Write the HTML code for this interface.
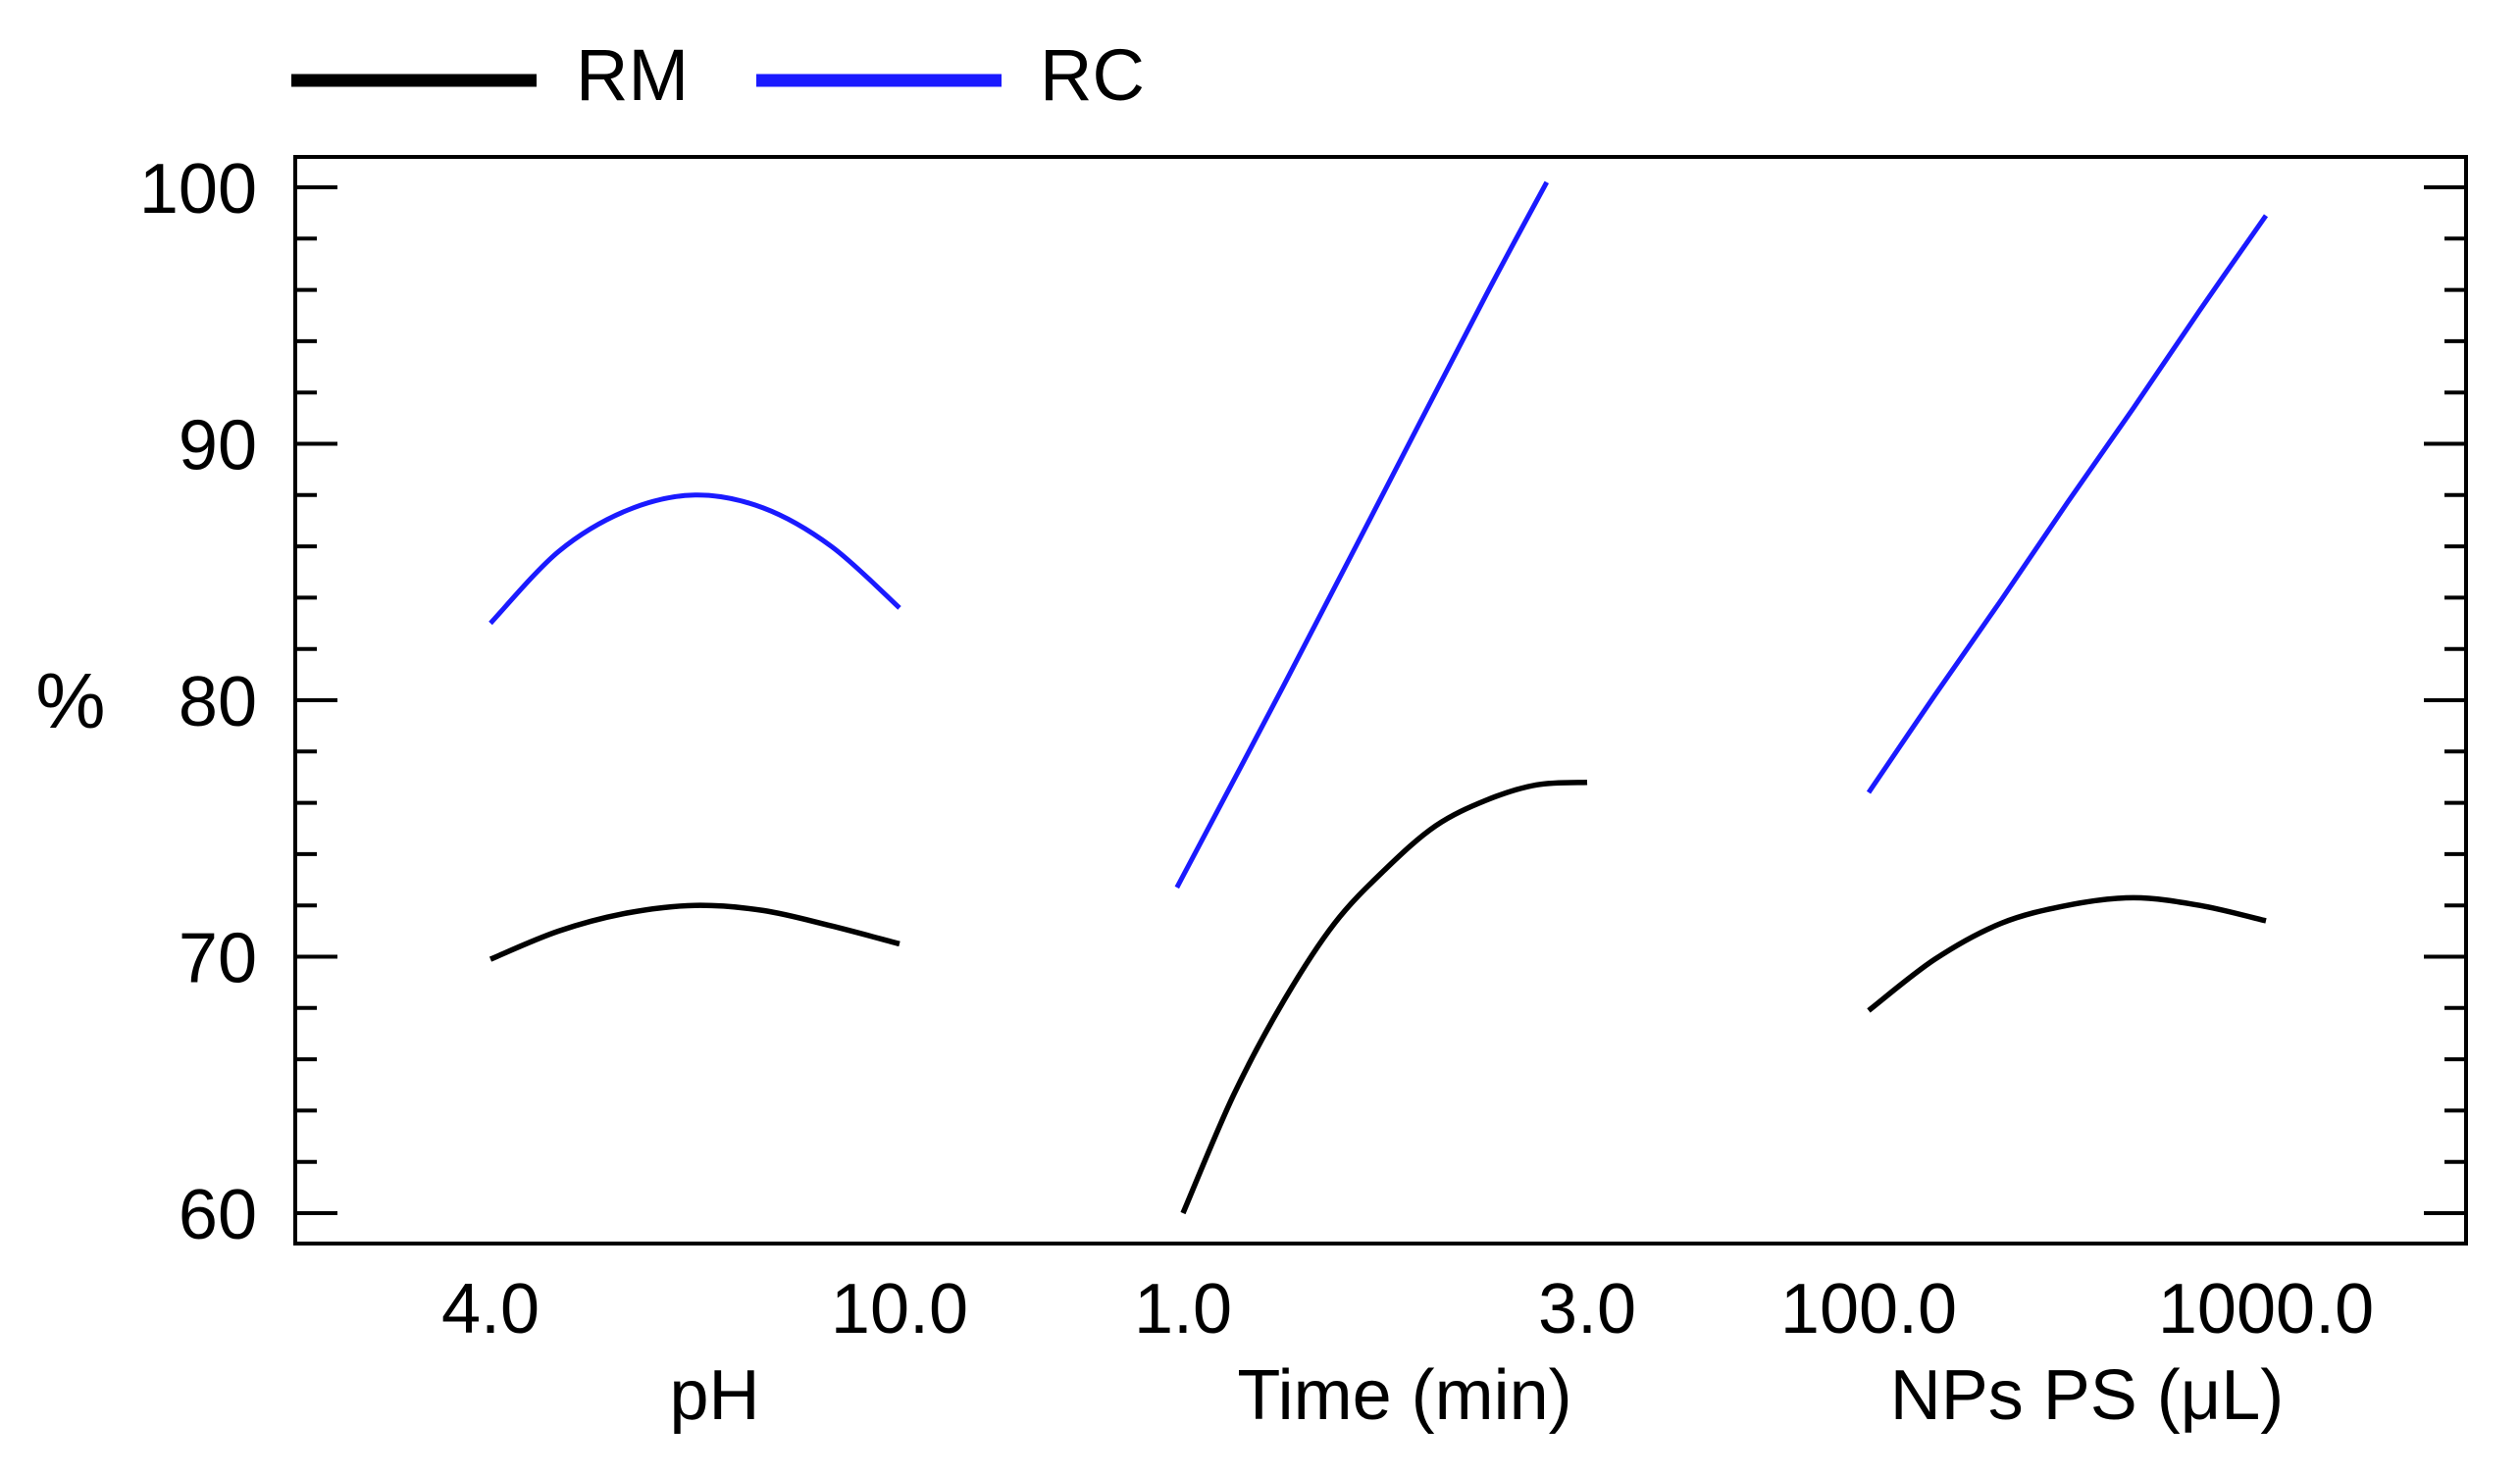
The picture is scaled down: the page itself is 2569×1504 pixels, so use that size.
<!DOCTYPE html>
<html><head><meta charset="utf-8"><style>
html,body{margin:0;padding:0;background:#fff;}
svg{display:block;font-family:"Liberation Sans",Arial,sans-serif;}
</style></head><body>
<svg id="chart" width="2569" height="1504" viewBox="0 0 2569 1504" xmlns="http://www.w3.org/2000/svg">
<g>
  <line x1="297" y1="82" x2="547" y2="82" stroke="#000" stroke-width="13"/>
  <text x="587" y="102" font-size="74">RM</text>
  <line x1="771" y1="82" x2="1021" y2="82" stroke="#1a1aff" stroke-width="13"/>
  <text x="1060" y="102" font-size="74">RC</text>
</g>
<rect x="301" y="160" width="2213" height="1108" fill="none" stroke="#000" stroke-width="4"/>
<g id="yaxis"></g>
<g id="xaxis"></g>
<g id="series"></g>
<text x="72" y="742" font-size="80" text-anchor="middle">%</text>
</svg>
<script>
const yTicks = [60, 70, 80, 90, 100];
const panelNames = ["pH", "Time (min)", "NPs PS (μL)"];
const panelMin = [4, 1, 100];
const panelMax = [10, 3, 1000];
const panelTickLabels = [["4.0", "10.0"], ["1.0", "3.0"], ["100.0", "1000.0"]];
const pHx = [4, 5, 6, 7, 8, 9, 10];
const pH_RM = [69.9, 71.0, 71.7, 72.0, 71.8, 71.2, 70.5];
const pH_RC = [83.0, 85.8, 87.4, 88.0, 87.5, 86.0, 83.6];
const timeRMx = [1.0, 1.25, 1.5, 1.75, 2.0, 2.25, 2.5, 2.75, 3.0];
const time_RM = [60.0, 64.6, 68.3, 71.3, 73.4, 75.1, 76.1, 76.7, 76.8];
const timeRCx = [0.97, 1.5, 2.0, 2.5, 2.8];
const time_RC = [72.7, 80.6, 88.2, 95.8, 100.2];
const npsX = [100, 250, 400, 550, 700, 850, 1000];
const nps_RM = [67.9, 69.9, 71.3, 72.0, 72.3, 72.0, 71.4];
const nps_RC = [76.4, 80.2, 83.9, 87.7, 91.4, 95.2, 98.9];

const NS = "http://www.w3.org/2000/svg";
const Y0 = 191, PX10 = 261.5;
function yScale(v){ return Y0 + (100 - v) * PX10 / 10; }
const panelPx = [[500, 917], [1206, 1618], [1905, 2310]];
function xScale(p, v){ return panelPx[p][0] + (v - panelMin[p]) / (panelMax[p] - panelMin[p]) * (panelPx[p][1] - panelPx[p][0]); }

const ya = document.getElementById('yaxis');
for (let v = 58; v <= 102; v += 2) {
  const y = yScale(v);
  if (y < 162 || y > 1266) continue;
  const major = v % 10 === 0;
  const len = major ? 43 : 22;
  const l1 = document.createElementNS(NS, 'line');
  
  
  l1.setAttribute('x1', 301); l1.setAttribute('x2', 301 + len);
  l1.setAttribute('y1', y); l1.setAttribute('y2', y);
  l1.setAttribute('stroke', '#000'); l1.setAttribute('stroke-width', 4);
  ya.appendChild(l1);
  const l2 = document.createElementNS(NS, 'line');
  
  
  l2.setAttribute('x1', 2514); l2.setAttribute('x2', 2514 - len);
  l2.setAttribute('y1', y); l2.setAttribute('y2', y);
  l2.setAttribute('stroke', '#000'); l2.setAttribute('stroke-width', 4);
  ya.appendChild(l2);
}
yTicks.forEach(v => {
  const t = document.createElementNS(NS, 'text');
  
  
  t.setAttribute('x', 262); t.setAttribute('y', yScale(v) + 26);
  t.setAttribute('font-size', 72); t.setAttribute('text-anchor', 'end');
  t.textContent = String(v);
  ya.appendChild(t);
});

const xa = document.getElementById('xaxis');
panelNames.forEach((name, p) => {
  [panelMin[p], panelMax[p]].forEach((v, i) => {
    const t = document.createElementNS(NS, 'text');
    
    
    t.setAttribute('x', xScale(p, v)); t.setAttribute('y', 1359);
    t.setAttribute('font-size', 72); t.setAttribute('text-anchor', 'middle');
    t.textContent = panelTickLabels[p][i];
    xa.appendChild(t);
  });
  const t = document.createElementNS(NS, 'text');
  
  
  t.setAttribute('x', (xScale(p, panelMin[p]) + xScale(p, panelMax[p])) / 2 + 20);
  t.setAttribute('y', 1447);
  t.setAttribute('font-size', 72); t.setAttribute('text-anchor', 'middle');
  t.textContent = name;
  xa.appendChild(t);
});

const sg = document.getElementById('series');
function drawLine(p, xs, ys, color, w, name){
  const P = xs.map((x, i) => [xScale(p, x), yScale(ys[i])]);
  let d = 'M' + P[0][0].toFixed(1) + ',' + P[0][1].toFixed(1);
  for (let i = 0; i < P.length - 1; i++) {
    const p0 = P[Math.max(0, i - 1)], p1 = P[i], p2 = P[i + 1], p3 = P[Math.min(P.length - 1, i + 2)];
    const c1 = [p1[0] + (p2[0] - p0[0]) / 6, p1[1] + (p2[1] - p0[1]) / 6];
    const c2 = [p2[0] - (p3[0] - p1[0]) / 6, p2[1] - (p3[1] - p1[1]) / 6];
    d += ' C' + c1.map(v => v.toFixed(1)).join(',') + ' ' + c2.map(v => v.toFixed(1)).join(',') + ' ' + p2.map(v => v.toFixed(1)).join(',');
  }
  const pl = document.createElementNS(NS, 'path');
  
  
  pl.setAttribute('d', d);
  pl.setAttribute('fill', 'none'); pl.setAttribute('stroke', color);
  pl.setAttribute('stroke-width', w); pl.setAttribute('stroke-linejoin', 'round');
  sg.appendChild(pl);
}
drawLine(0, pHx, pH_RC, '#1a1aff', 5, 'ph-rc-line');
drawLine(0, pHx, pH_RM, '#000', 5.5, 'ph-rm-line');
drawLine(1, timeRCx, time_RC, '#1a1aff', 5, 'time-rc-line');
drawLine(1, timeRMx, time_RM, '#000', 5.5, 'time-rm-line');
drawLine(2, npsX, nps_RC, '#1a1aff', 5, 'nps-rc-line');
drawLine(2, npsX, nps_RM, '#000', 5.5, 'nps-rm-line');
</script>
</body></html>
